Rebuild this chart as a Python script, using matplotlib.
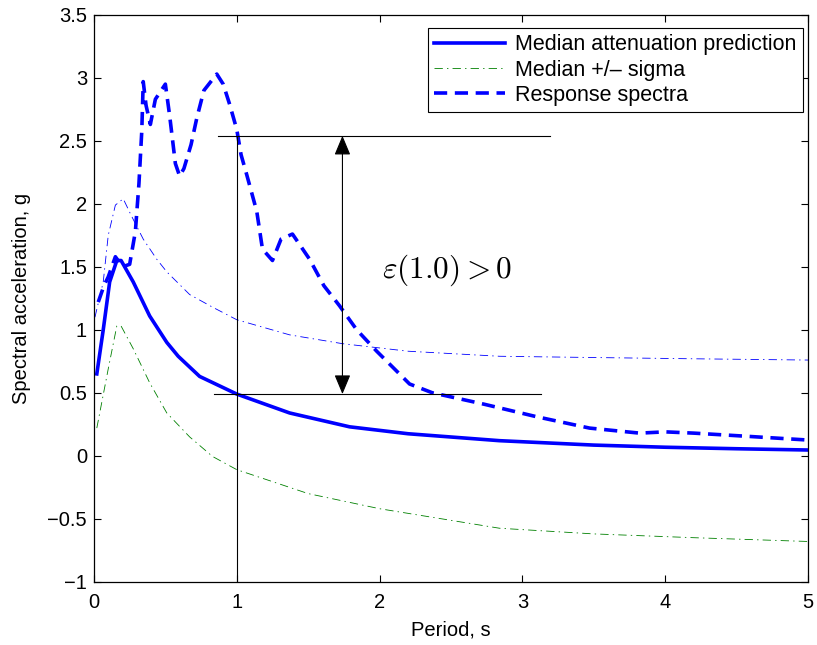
import numpy as np
import matplotlib
matplotlib.use('Agg')
import matplotlib.pyplot as plt

plt.rcParams['font.family'] = ['Liberation Sans', 'DejaVu Sans']
plt.rcParams['mathtext.fontset'] = 'cm'
plt.rcParams['lines.scale_dashes'] = False

# median attenuation prediction
T_med = [0.02, 0.065, 0.11, 0.16, 0.19, 0.275, 0.39, 0.51, 0.59, 0.74, 1.0, 1.37, 1.79, 2.2, 2.84, 3.5, 4.0, 4.5, 5.0]
Sa_med = [0.65, 1.0, 1.38, 1.55, 1.55, 1.38, 1.11, 0.90, 0.79, 0.63, 0.49, 0.34, 0.23, 0.175, 0.12, 0.085, 0.068, 0.056, 0.046]

# median + sigma
T_plus = [0.007, 0.065, 0.1, 0.15, 0.205, 0.26, 0.345, 0.44, 0.51, 0.67, 0.83, 1.0, 1.37, 1.74, 2.2, 2.84, 3.5, 4.2, 5.0]
Sa_plus = [1.10, 1.38, 1.75, 1.99, 2.04, 1.91, 1.72, 1.56, 1.46, 1.28, 1.18, 1.08, 0.96, 0.89, 0.83, 0.79, 0.78, 0.77, 0.76]

# median - sigma
T_minus = [0.02, 0.1, 0.16, 0.19, 0.275, 0.39, 0.51, 0.67, 0.83, 1.0, 1.5, 2.0, 2.84, 3.5, 4.2, 5.0]
Sa_minus = [0.22, 0.69, 1.03, 1.03, 0.85, 0.58, 0.34, 0.15, -0.005, -0.11, -0.30, -0.42, -0.575, -0.62, -0.65, -0.68]

# response spectra of the record
T_rs = [0.03, 0.07, 0.1, 0.15, 0.2, 0.25, 0.29, 0.315, 0.335, 0.345, 0.365, 0.395, 0.43, 0.5, 0.53, 0.57, 0.6, 0.63,
        0.68, 0.72, 0.77, 0.86, 0.905, 0.95, 1.0, 1.03, 1.07, 1.14, 1.18, 1.25, 1.31, 1.39, 1.51, 1.61, 1.72, 1.84,
        1.98, 2.21, 2.37, 2.73, 3.1, 3.47, 3.82, 4.0, 4.2, 4.57, 5.0]
Sa_rs = [1.22, 1.35, 1.42, 1.58, 1.50, 1.52, 1.78, 2.16, 2.58, 2.97, 2.78, 2.63, 2.83, 2.95, 2.70, 2.32, 2.22, 2.28,
         2.47, 2.68, 2.90, 3.03, 2.95, 2.79, 2.59, 2.39, 2.23, 1.94, 1.64, 1.55, 1.72, 1.76, 1.56, 1.35, 1.19, 1.0,
         0.83, 0.57, 0.50, 0.41, 0.31, 0.22, 0.18, 0.19, 0.18, 0.155, 0.125]

# epsilon annotation values
T_star = 1.0
Sa_star_med = 0.49
Sa_star_rs = 2.54
eps_text = r'$\varepsilon(1.0) > 0$'

fig = plt.figure(figsize=(8.17, 6.45), dpi=100)
ax = fig.add_axes([0.115, 0.098, 0.874, 0.879])

ax.plot(T_med, Sa_med, color='#0000ff', linewidth=2.6, label='Median attenuation prediction')
ax.plot(T_plus, Sa_plus, color='#0000ff', linewidth=0.6, dashes=(6, 3, 1, 3))
ax.plot(T_minus, Sa_minus, color='#008000', linewidth=0.6, dashes=(6, 3, 1, 3), label='Median +/\u2013 sigma')
ax.plot(T_rs, Sa_rs, color='#0000ff', linewidth=2.6, dashes=(9.5, 5.5), label='Response spectra')

# epsilon construction lines
ax.plot([T_star, T_star], [-1, Sa_star_rs], color='black', linewidth=0.8)
ax.plot([0.87, 3.19], [Sa_star_rs, Sa_star_rs], color='black', linewidth=0.8)
ax.plot([0.84, 3.13], [Sa_star_med, Sa_star_med], color='black', linewidth=0.8)
ax.annotate('', xy=(1.74, Sa_star_rs), xytext=(1.74, Sa_star_med),
            arrowprops=dict(arrowstyle='<|-|>,head_length=1.2,head_width=0.5', color='black',
                            linewidth=0.8, shrinkA=0, shrinkB=0))
ax.text(2.47, 1.47, eps_text, fontsize=22.5, ha='center', va='center')

ax.set_xlim(0, 5)
ax.set_ylim(-1, 3.5)
ax.set_xticks([0, 1, 2, 3, 4, 5])
ax.set_yticks(np.arange(-1, 3.51, 0.5))
ax.set_yticklabels(['\u22121', '\u22120.5', '0', '0.5', '1', '1.5', '2', '2.5', '3', '3.5'])
ax.tick_params(direction='in', length=5, labelsize=14.5, top=True, right=True, width=0.8)
ax.tick_params(axis='x', pad=8)
ax.tick_params(axis='y', pad=5)
for s in ax.spines.values():
    s.set_linewidth(0.9)
ax.set_xlabel('Period, s', fontsize=14.5)
ax.set_ylabel('Spectral acceleration, g', fontsize=14.5)
ax.xaxis.set_label_coords(0.5, -0.068)
ax.yaxis.set_label_coords(-0.088, 0.5)

leg = ax.legend(loc='upper right', bbox_to_anchor=(0.993, 0.977), borderaxespad=0,
                fontsize=15.5, handlelength=3.3, fancybox=False, framealpha=1,
                edgecolor='black', labelspacing=0.2, borderpad=0.3, handletextpad=0.45)
leg.get_frame().set_linewidth(0.8)

plt.savefig('out.png', dpi=100)
plt.close()
